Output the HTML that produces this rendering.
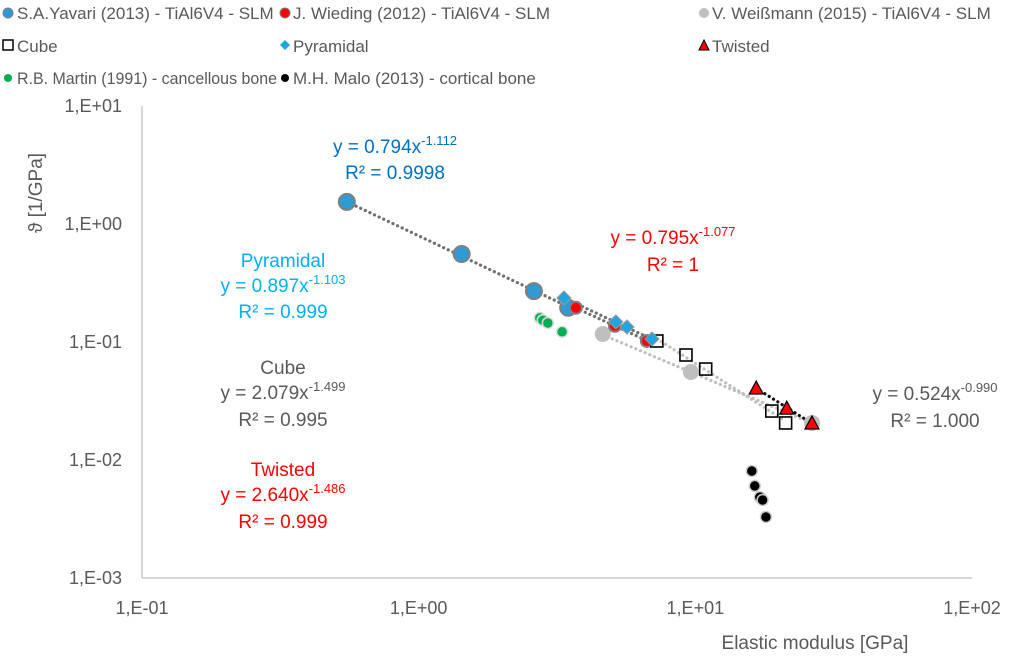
<!DOCTYPE html>
<html><head><meta charset="utf-8">
<style>
html,body{margin:0;padding:0;background:#fff;}
svg{display:block;font-family:"Liberation Sans",sans-serif;}
</style></head>
<body>
<svg id="chart" width="1024" height="664" viewBox="0 0 1024 664" xmlns="http://www.w3.org/2000/svg">
<g id="legend" font-size="17" fill="#595959">
  <g><circle cx="8" cy="13" r="5" fill="#2E9BD6" stroke="#7f7f7f" stroke-width="1"/><text x="17" y="19">S.A.Yavari (2013) -  TiAl6V4 - SLM</text></g>
  <g><circle cx="285" cy="13" r="5" fill="#ff0000" stroke="#7f7f7f" stroke-width="1"/><text x="293" y="19">J. Wieding (2012) - TiAl6V4 - SLM</text></g>
  <g><circle cx="704" cy="13" r="5" fill="#bfbfbf"/><text x="712" y="19">V. Weißmann (2015) - TiAl6V4 - SLM</text></g>
  <g><rect x="3" y="40" width="10" height="10" fill="#fff" stroke="#000" stroke-width="1.5"/><text x="17" y="52">Cube</text></g>
  <g><path d="M285 40 L290 45 L285 50 L280 45 Z" fill="#1FA5E0"/><text x="293" y="52">Pyramidal</text></g>
  <g><path d="M704 40 L709 50 L699 50 Z" fill="#ff0000" stroke="#000" stroke-width="1"/><text x="712" y="52">Twisted</text></g>
  <g><circle cx="8" cy="78" r="4" fill="#00B050"/><text x="17" y="84" textLength="260" lengthAdjust="spacingAndGlyphs">R.B. Martin (1991) - cancellous bone</text></g>
  <g><circle cx="285" cy="78" r="4" fill="#000"/><text x="293" y="84">M.H. Malo (2013) - cortical bone</text></g>
</g>
<g id="axes"></g>
<g id="trends"></g>
<g id="marks"></g>
<g font-size="19" text-anchor="middle">
  <text x="395" y="153" fill="#0070C0">y = 0.794x<tspan dy="-8" font-size="13">-1.112</tspan></text>
  <text x="395" y="179" fill="#0070C0">R² = 0.9998</text>
  <text x="673" y="244" fill="#ff0000">y = 0.795x<tspan dy="-8" font-size="13">-1.077</tspan></text>
  <text x="673" y="271" fill="#ff0000">R² = 1</text>
  <text x="283" y="267" fill="#00B0F0">Pyramidal</text>
  <text x="283" y="292" fill="#00B0F0">y = 0.897x<tspan dy="-8" font-size="13">-1.103</tspan></text>
  <text x="283" y="318" fill="#00B0F0">R² = 0.999</text>
  <text x="283" y="374" fill="#595959">Cube</text>
  <text x="283" y="399" fill="#595959">y = 2.079x<tspan dy="-8" font-size="13">-1.499</tspan></text>
  <text x="283" y="426" fill="#595959">R² = 0.995</text>
  <text x="283" y="476" fill="#ff0000">Twisted</text>
  <text x="283" y="501" fill="#ff0000">y = 2.640x<tspan dy="-8" font-size="13">-1.486</tspan></text>
  <text x="283" y="528" fill="#ff0000">R² = 0.999</text>
  <text x="935" y="400" fill="#595959">y = 0.524x<tspan dy="-8" font-size="13">-0.990</tspan></text>
  <text x="935" y="427" fill="#595959">R² = 1.000</text>
</g>
<text x="815" y="649" font-size="19" fill="#595959" text-anchor="middle">Elastic modulus [GPa]</text>
<text transform="translate(42,193) rotate(-90)" font-size="19" fill="#595959" text-anchor="middle">ϑ [1/GPa]</text>
</svg>
<script>
const xTicks = [0.1, 1, 10, 100];
const xTickLabels = ["1,E-01", "1,E+00", "1,E+01", "1,E+02"];
const yTicks = [10, 1, 0.1, 0.01, 0.001];
const yTickLabels = ["1,E+01", "1,E+00", "1,E-01", "1,E-02", "1,E-03"];

const yavariE = [0.55, 1.43, 2.61, 3.47];
const yavariV = [1.54, 0.557, 0.27, 0.195];
const wiedingE = [3.70, 5.12, 6.68];
const wiedingV = [0.195, 0.137, 0.102];
const weissE = [4.63, 9.64, 26.4];
const weissV = [0.117, 0.0557, 0.0206];
const cubeE = [7.26, 9.25, 10.9, 18.9, 21.2];
const cubeV = [0.102, 0.0776, 0.059, 0.026, 0.0206];
const pyrE = [3.35, 5.16, 5.66, 6.97];
const pyrV = [0.236, 0.148, 0.134, 0.106];
const twistE = [16.6, 21.4, 26.4];
const twistV = [0.0407, 0.0275, 0.0206];
const martinE = [2.74, 2.81, 2.93, 3.30];
const martinV = [0.160, 0.153, 0.145, 0.122];
const maloE = [16.0, 16.4, 17.1, 17.5, 18.0];
const maloV = [0.00807, 0.00603, 0.00485, 0.00458, 0.00329];

const fitA = [0.794, 0.795, 0.897, 2.079, 2.640, 0.524];
const fitB = [-1.112, -1.077, -1.103, -1.499, -1.486, -0.990];

const X0 = 142, X1 = 972, Y0 = 578, Y1 = 106;
function sx(v){ return X0 + (Math.log10(v) + 1) / 3 * (X1 - X0); }
function sy(v){ return Y0 - (Math.log10(v) + 3) / 4 * (Y0 - Y1); }
const NS = "http://www.w3.org/2000/svg";
function mk(tag, attrs, parent){
  const e = document.createElementNS(NS, tag);
  for (const k in attrs) e.setAttribute(k, attrs[k]);
  parent.appendChild(e); return e;
}
const axes = document.getElementById('axes');
const yAxis = mk('line', {x1:X0, y1:Y1, x2:X0, y2:Y0, stroke:'#bfbfbf', 'stroke-width':1.3}, axes);


const xAxis = mk('line', {x1:X0, y1:Y0, x2:X1, y2:Y0, stroke:'#bfbfbf', 'stroke-width':1.3}, axes);


xTicks.forEach((t, i) => {
  const tx = mk('text', {x:sx(t), y:614, 'font-size':18, fill:'#595959', 'text-anchor':'middle'}, axes);
  tx.textContent = xTickLabels[i];
  
  
});
yTicks.forEach((t, i) => {
  const tx = mk('text', {x:122, y:sy(t) + 6, 'font-size':18, fill:'#595959', 'text-anchor':'end'}, axes);
  tx.textContent = yTickLabels[i];
  
  
});

const trends = document.getElementById('trends');
function trend(k, e0, e1, color, w, name){
  let d = '';
  for (let i = 0; i <= 40; i++){
    const e = e0 * Math.pow(e1 / e0, i / 40);
    const v = fitA[k] * Math.pow(e, fitB[k]);
    d += (i ? 'L' : 'M') + sx(e).toFixed(1) + ' ' + sy(v).toFixed(1);
  }
  const p = mk('path', {d:d, fill:'none', stroke:color, 'stroke-width':w, 'stroke-dasharray':'0.1 5', 'stroke-linecap':'round'}, trends);
  
  
}
trend(0, yavariE[0], yavariE[yavariE.length-1], '#6f6f6f', 3.2, 'yavari-trendline');
trend(1, wiedingE[0], wiedingE[wiedingE.length-1], '#6f6f6f', 3.2, 'wieding-trendline');
trend(2, pyrE[0], pyrE[pyrE.length-1], '#6f6f6f', 3.2, 'pyramidal-trendline');
trend(3, cubeE[0], cubeE[cubeE.length-1], '#bfbfbf', 3.2, 'cube-trendline');
trend(5, weissE[0], weissE[weissE.length-1], '#bfbfbf', 3.2, 'weissmann-trendline');
trend(4, twistE[0], twistE[twistE.length-1], '#111', 3.2, 'twisted-trendline');

const marks = document.getElementById('marks');
function circles(E, V, r, fill, stroke, sw, name){
  E.forEach((e, i) => {
    const c = mk('circle', {cx:sx(e), cy:sy(V[i]), r:r, fill:fill, stroke:stroke, 'stroke-width':sw}, marks);
    
    
  });
}
circles(weissE, weissV, 8, '#bfbfbf', 'none', 0, 'weissmann-point');
circles(yavariE, yavariV, 8, '#2E9BD6', '#7f7f7f', 2, 'yavari-point');
circles(wiedingE, wiedingV, 6, '#ff0000', '#7f7f7f', 2, 'wieding-point');
circles(martinE, martinV, 5.5, '#00B050', '#dcdcdc', 1.5, 'martin-point');
circles(maloE, maloV, 5.5, '#000', '#cfcfcf', 1.5, 'malo-point');
cubeE.forEach((e, i) => {
  const r = mk('rect', {x:sx(e)-6, y:sy(cubeV[i])-6, width:12, height:12, fill:'none', stroke:'#000', 'stroke-width':1.6}, marks);
  
  
});
pyrE.forEach((e, i) => {
  const x = sx(e), y = sy(pyrV[i]);
  const p = mk('path', {d:`M${x} ${y-7}L${x+7} ${y}L${x} ${y+7}L${x-7} ${y}Z`, fill:'#1FA5E0', stroke:'#9a9a9a', 'stroke-width':1}, marks);
  
  
});
twistE.forEach((e, i) => {
  const x = sx(e), y = sy(twistV[i]);
  const p = mk('path', {d:`M${x} ${y-7}L${x+7} ${y+6}L${x-7} ${y+6}Z`, fill:'#ff0000', stroke:'#000', 'stroke-width':1.2}, marks);
  
  
});
</script>
</body></html>
